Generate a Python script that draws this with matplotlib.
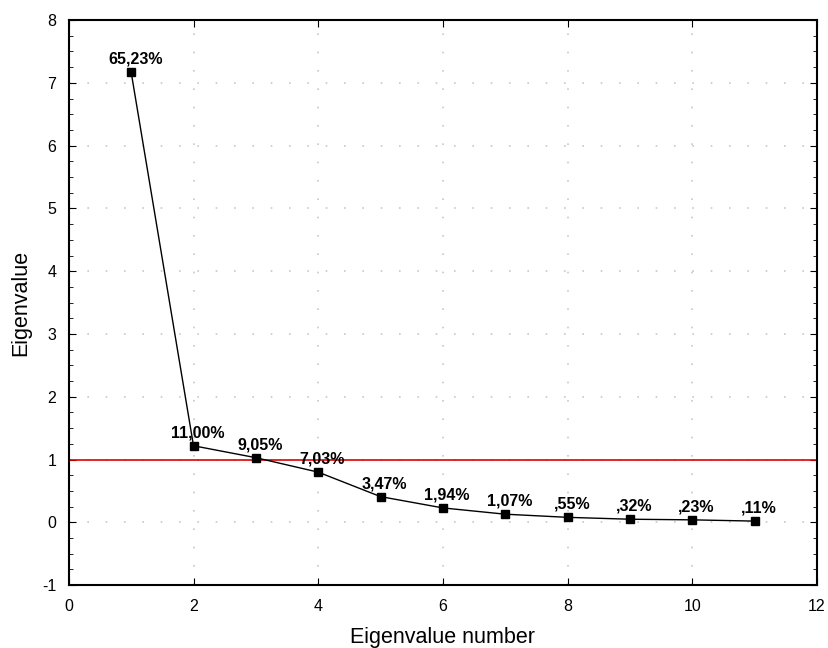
import matplotlib
matplotlib.use("Agg")
import matplotlib.pyplot as plt
from matplotlib.ticker import MultipleLocator, FuncFormatter

plt.rcParams["font.family"] = ["Liberation Sans", "DejaVu Sans"]
plt.rcParams["axes.unicode_minus"] = False

# Scree plot data
eig_number = [1, 2, 3, 4, 5, 6, 7, 8, 9, 10, 11]
eigenvalues = [7.17, 1.22, 1.03, 0.80, 0.41, 0.23, 0.13, 0.08, 0.05, 0.04, 0.02]
pct_labels = ["65,23%", "11,00%", "9,05%", "7,03%", "3,47%", "1,94%",
              "1,07%", ",55%", ",32%", ",23%", ",11%"]

fig = plt.figure(figsize=(8.29, 6.48), dpi=100)
ax = fig.add_axes([0.083, 0.097, 0.9025, 0.872])

# Kaiser criterion line
ax.axhline(1, color="#e00000", linewidth=1.2, zorder=2)

ax.plot(eig_number, eigenvalues, color="black", linewidth=1.0,
        marker="s", markersize=6, zorder=3)

for x, y, s in zip(eig_number, eigenvalues, pct_labels):
    ax.annotate(s, (x, y), xytext=(3, 4), textcoords="offset points",
                ha="center", va="bottom", fontsize=11.5, fontweight="bold", zorder=4)

ax.set_xlim(0, 12)
ax.set_ylim(-1, 8)
ax.xaxis.set_major_locator(MultipleLocator(2))
ax.yaxis.set_major_locator(MultipleLocator(1))
ax.yaxis.set_minor_locator(MultipleLocator(0.25))
ax.yaxis.set_major_formatter(FuncFormatter(lambda v, p: f"{v:g}"))
ax.tick_params(which="both", direction="in", top=True, right=True)
ax.tick_params(which="major", length=5, labelsize=11.5)
ax.tick_params(axis="x", pad=10)
ax.tick_params(axis="y", pad=9)
ax.tick_params(which="minor", length=3)

ax.grid(True, which="major", color="#c8c8c8", linestyle=(0, (1, 10)), linewidth=1.2)
ax.set_axisbelow(True)

for sp in ax.spines.values():
    sp.set_linewidth(1.5)

ax.set_xlabel("Eigenvalue number", fontsize=15.5, labelpad=9)
ax.set_ylabel("Eigenvalue", fontsize=15.5, labelpad=8)

fig.savefig("out.png", dpi=100)
